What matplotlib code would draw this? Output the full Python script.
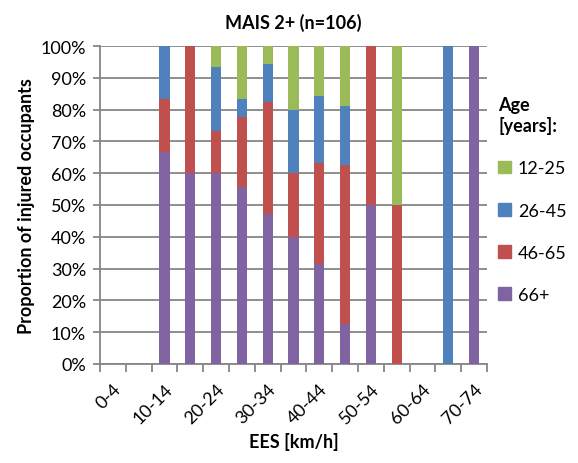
import numpy as np
import matplotlib
matplotlib.use('Agg')
import matplotlib.pyplot as plt
from matplotlib.patches import Patch
from matplotlib.ticker import FuncFormatter

plt.rcParams['font.family'] = ['Lato', 'DejaVu Sans']

# EES speed bins and share of injured occupants per age group (%)
categories = ['0-4', '5-9', '10-14', '15-19', '20-24', '25-29', '30-34', '35-39',
              '40-44', '45-49', '50-54', '55-59', '60-64', '65-69', '70-74']
age_66plus = [0, 0, 66.7, 60, 60, 55.6, 47.1, 40, 31.6, 12.5, 50, 0, 0, 0, 100]
age_46_65 = [0, 0, 16.7, 40, 13.3, 22.2, 35.3, 20, 31.6, 50, 50, 50, 0, 0, 0]
age_26_45 = [0, 0, 16.7, 0, 20, 5.6, 11.8, 20, 21.1, 18.75, 0, 0, 0, 100, 0]
age_12_25 = [0, 0, 0, 0, 6.7, 16.7, 5.9, 20, 15.8, 18.75, 0, 50, 0, 0, 0]

series = [('66+', age_66plus, '#8064A2'),
          ('46-65', age_46_65, '#C0504D'),
          ('26-45', age_26_45, '#4F81BD'),
          ('12-25', age_12_25, '#9BBB59')]

fig = plt.figure(figsize=(5.78, 4.64), dpi=100)
ax = fig.add_axes([0.173, 0.2134, 0.6696, 0.6853])

x = np.arange(len(categories))
bottom = np.zeros(len(categories))
for name, vals, col in series:
    vals = np.array(vals, dtype=float)
    ax.bar(x, vals, 0.4, bottom=bottom, color=col, zorder=3)
    bottom += vals

ax.set_xlim(-0.5, len(categories) - 0.5)
ax.set_ylim(0, 100)
ax.set_yticks(np.arange(0, 101, 10))
ax.yaxis.set_major_formatter(FuncFormatter(lambda v, p: f'{v:.0f}%'))
ax.grid(axis='y', color='#868686', linewidth=1.3, zorder=0)

# labels on every other bin, tick marks on bin borders
ax.set_xticks(x)
ax.set_xticklabels([c if i % 2 == 0 else '' for i, c in enumerate(categories)],
                   rotation=45, ha='right', rotation_mode='anchor')
ax.tick_params(axis='x', which='major', length=0, pad=12)
ax.set_xticks(np.arange(-0.5, len(categories), 1), minor=True)
ax.tick_params(axis='x', which='minor', length=6, color='#868686', width=1.3)
ax.tick_params(axis='y', length=5, color='#868686', width=1.3, pad=5)
ax.tick_params(labelsize=13)

for s in ['top', 'right']:
    ax.spines[s].set_visible(False)
for s in ['left', 'bottom']:
    ax.spines[s].set_color('#868686')
    ax.spines[s].set_linewidth(1.3)

ax.set_title('MAIS 2+ (n=106)', fontsize=13, fontweight='bold', pad=13)
ax.set_ylabel('Proportion of injured occupants', fontsize=13, fontweight='bold', labelpad=4)
ax.set_xlabel('EES [km/h]', fontsize=13, fontweight='bold', labelpad=4)

handles = [Patch(color=col, label=name) for name, vals, col in series[::-1]]
leg = ax.legend(handles=handles, loc='upper left', bbox_to_anchor=(1.01, 0.865),
                frameon=False, title='Age\n[years]:', alignment='left',
                title_fontproperties={'weight': 'bold', 'size': 13},
                fontsize=13, handlelength=0.7, handleheight=0.7,
                handletextpad=0.4, labelspacing=1.45, borderaxespad=0)

fig.savefig('out.png', dpi=100)
